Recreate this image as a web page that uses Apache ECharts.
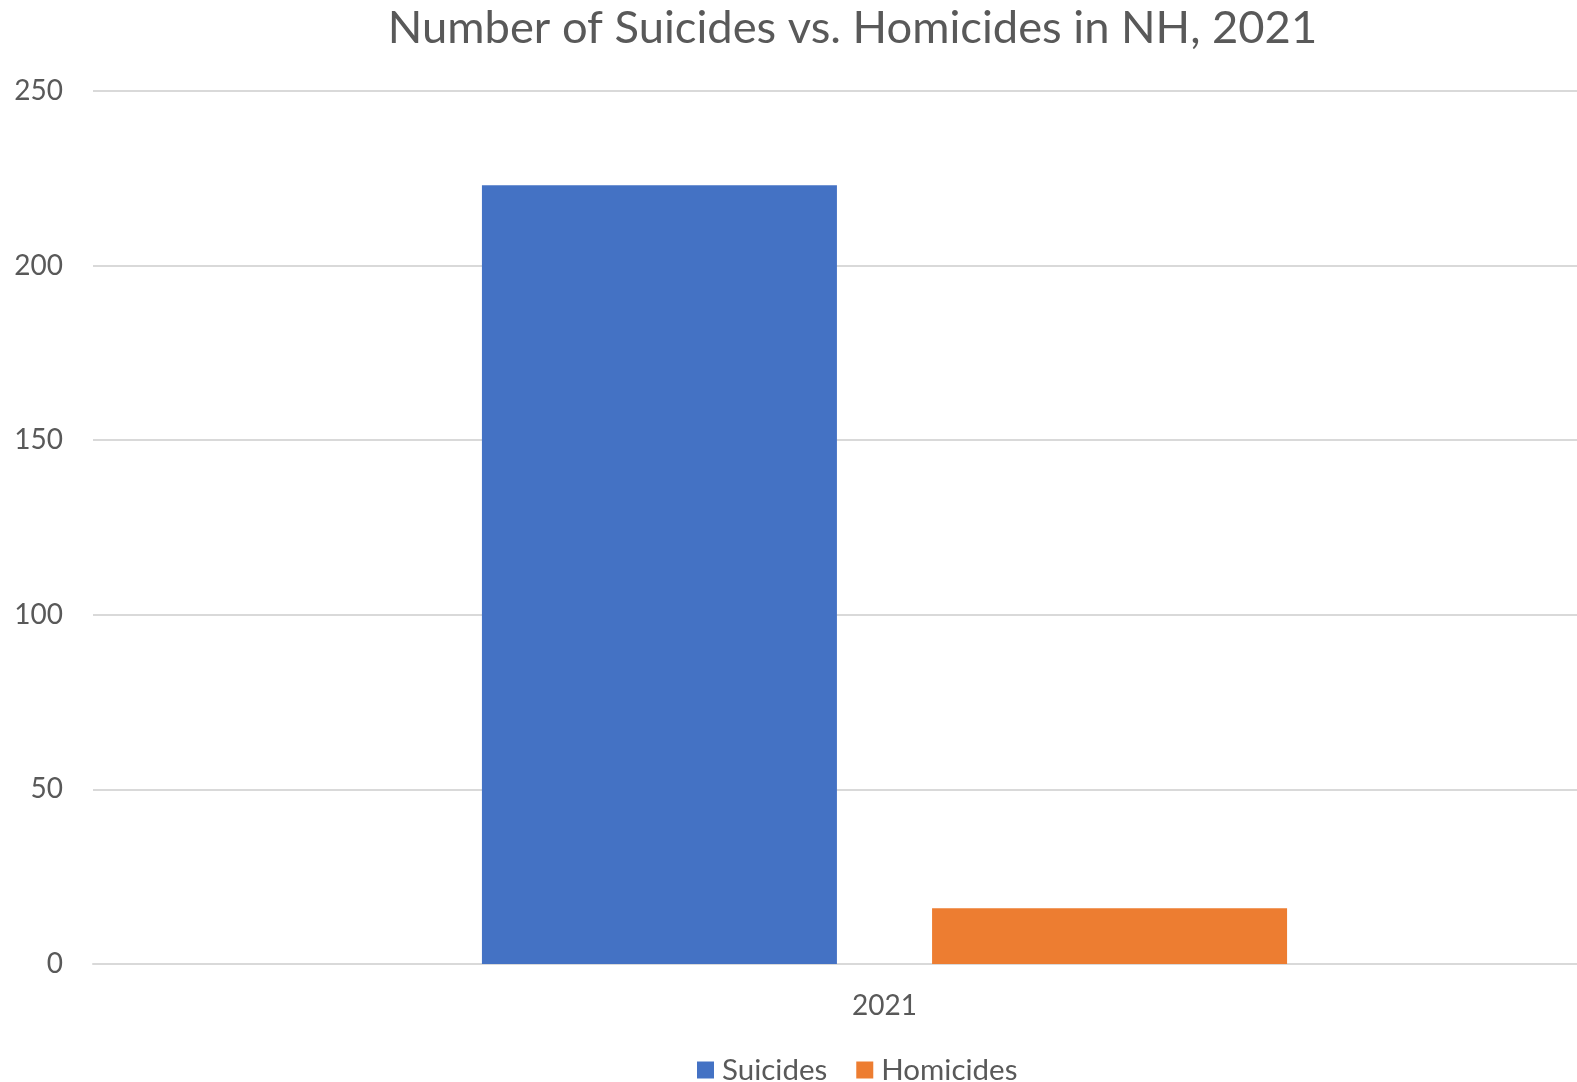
<!DOCTYPE html>
<html>
<head>
<meta charset="utf-8">
<script src="https://cdn.jsdelivr.net/npm/echarts@6/dist/echarts.min.js"></script>
<style>html,body{margin:0;padding:0;background:#fff;}#c{width:1577px;height:1082px;}</style>
</head>
<body>
<div id="c"></div>
<script>
const categories = ['2021'];
const seriesNames = ['Suicides', 'Homicides'];
const suicides = [223];
const homicides = [16];
const yTicks = [0, 50, 100, 150, 200, 250];

const chart = echarts.init(document.getElementById('c'), null, {renderer: 'canvas'});
const font = 'Lato, Calibri, Carlito, sans-serif';
chart.setOption({
  animation: false,
  backgroundColor: '#ffffff',
  title: {
    text: 'Number of Suicides vs. Homicides in NH, 2021',
    left: 847.5, top: 1, textAlign: 'center',
    textStyle: {fontFamily: font, fontSize: 45.3, fontWeight: 'normal', color: '#595959'}
  },
  legend: {
    data: seriesNames,
    left: 692, top: 1050,
    icon: 'rect', itemWidth: 17, itemHeight: 17, itemGap: 29,
    textStyle: {fontFamily: font, fontSize: 29.5, color: '#595959', padding: [0,0,0,3]}
  },
  grid: {left: 93, width: 1583, top: 91, height: 873, containLabel: false, outerBoundsMode: 'none'},
  xAxis: {
    type: 'category', data: categories,
    axisLine: {show: true, lineStyle: {color: '#d9d9d9', width: 2}},
    axisTick: {show: false},
    axisLabel: {fontFamily: font, fontSize: 28, color: '#595959', margin: 28}
  },
  yAxis: {
    type: 'value', min: yTicks[0], max: yTicks[yTicks.length-1], interval: 50,
    axisLine: {show: false}, axisTick: {show: false},
    splitLine: {lineStyle: {color: '#d9d9d9', width: 2}},
    axisLabel: {fontFamily: font, fontSize: 28, color: '#595959', margin: 30}
  },
  series: [
    {name: seriesNames[0], type: 'bar', data: suicides, barWidth: 355, barGap: '26.8%', itemStyle: {color: '#4472C4'}},
    {name: seriesNames[1], type: 'bar', data: homicides, barWidth: 355, barGap: '26.8%', itemStyle: {color: '#ED7D31'}}
  ]
});
</script>
</body>
</html>
